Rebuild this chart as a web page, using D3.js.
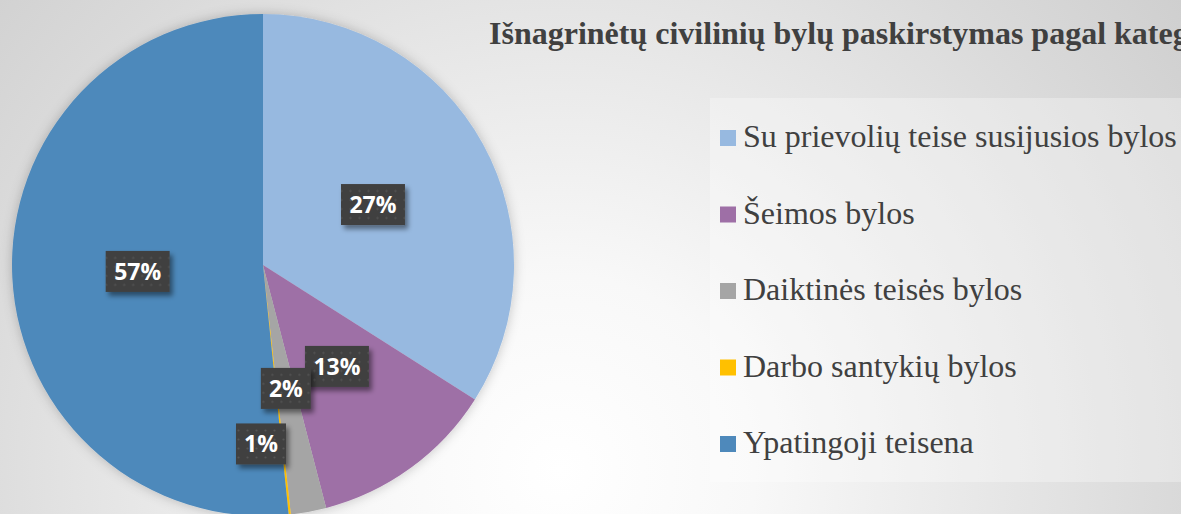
<!DOCTYPE html>
<html>
<head>
<meta charset="utf-8">
<script src="https://cdn.jsdelivr.net/npm/d3@7"></script>
<style>
  html, body { margin: 0; padding: 0; overflow: hidden; }
  body { width: 1181px; height: 514px; }
</style>
</head>
<body>
<div id="chart"></div>
<script>
// Chart data (slice shares, labels as printed)
const categories = [
    'Su prievolių teise susijusios bylos',
    'Šeimos bylos',
    'Daiktinės teisės bylos',
    'Darbo santykių bylos',
    'Ypatingoji teisena'
];
const shares = [34.0, 11.95, 2.28, 0.14, 51.63];
const labels = ['27%', '13%', '2%', '1%', '57%'];
const colors = ['#97B9E0', '#9E6FA6', '#A5A5A5', '#FFC000', '#4E89BB'];
const title = 'Išnagrinėtų civilinių bylų paskirstymas pagal kategorijas';

const config = {
    width: 1181,
    height: 514,
    cx: 263,
    cy: 265,
    radius: 251
};

const svg = d3.select('#chart').append('svg')
    .attr('width', config.width)
    .attr('height', config.height);

const defs = svg.append('defs');

// Background radial gradient
const bg = defs.append('radialGradient')
    .attr('id', 'bg')
    .attr('gradientUnits', 'userSpaceOnUse')
    .attr('cx', 560).attr('cy', 470).attr('r', 780);
bg.append('stop').attr('offset', 0).attr('stop-color', '#ffffff');
bg.append('stop').attr('offset', 0.25).attr('stop-color', '#f8f8f8');
bg.append('stop').attr('offset', 0.8).attr('stop-color', '#d9d9d9');
bg.append('stop').attr('offset', 1).attr('stop-color', '#cfcfcf');

// soft shadow for pie
const pieShadow = defs.append('filter').attr('id', 'pieShadow')
    .attr('x', '-20%').attr('y', '-20%').attr('width', '140%').attr('height', '140%');
pieShadow.append('feDropShadow')
    .attr('dx', 0).attr('dy', 0).attr('stdDeviation', 6)
    .attr('flood-color', '#000').attr('flood-opacity', 0.22);

// shadow for label boxes
const boxShadow = defs.append('filter').attr('id', 'boxShadow')
    .attr('x', '-30%').attr('y', '-30%').attr('width', '160%').attr('height', '160%');
boxShadow.append('feDropShadow')
    .attr('dx', 3).attr('dy', 4).attr('stdDeviation', 2.5)
    .attr('flood-color', '#000').attr('flood-opacity', 0.45);

// dotted fill for label boxes
const dots = defs.append('pattern')
    .attr('id', 'dots')
    .attr('patternUnits', 'userSpaceOnUse')
    .attr('width', 9).attr('height', 9);
dots.append('rect').attr('width', 9).attr('height', 9).attr('fill', '#404040');
dots.append('circle').attr('cx', 4.5).attr('cy', 4.5).attr('r', 1.1).attr('fill', '#555555');

svg.append('rect')
    .attr('width', config.width)
    .attr('height', config.height)
    .attr('fill', 'url(#bg)');

// Pie
const pie = d3.pie().sort(null).value(d => d);
const arcs = pie(shares);

const arc = d3.arc().innerRadius(0).outerRadius(config.radius);

const g = svg.append('g')
    .attr('transform', `translate(${config.cx},${config.cy})`);

g.append('g')
    .attr('filter', 'url(#pieShadow)')
    .selectAll('path')
    .data(arcs)
    .enter().append('path')
    .attr('d', arc)
    .attr('fill', (d, i) => colors[i]);

// Data labels - the tiny slice label is pushed outward like Excel does
const labelNudge = { 3: { r: 0.713, da: 0.118 } };
const labelPos = (d, i) => {
    const n = labelNudge[i] || { r: 0.5, da: 0 };
    const a = (d.startAngle + d.endAngle) / 2 + n.da;
    const r = config.radius * n.r;
    return [r * Math.sin(a), -r * Math.cos(a)];
};

const boxW = 64, boxH = 41;
const lbl = g.selectAll('.lbl')
    .data(arcs)
    .enter().append('g')
    .attr('class', 'lbl')
    .attr('transform', (d, i) => {
        const p = labelPos(d, i);
        return `translate(${p[0]},${p[1]})`;
    });

lbl.append('rect')
    .attr('x', (d, i) => -(labels[i].length > 2 ? boxW : 50) / 2)
    .attr('y', -boxH / 2)
    .attr('width', (d, i) => labels[i].length > 2 ? boxW : 50)
    .attr('height', boxH)
    .attr('fill', 'url(#dots)')
    .attr('filter', 'url(#boxShadow)');

lbl.append('text')
    .attr('text-anchor', 'middle')
    .attr('dy', '0.36em')
    .attr('fill', '#ffffff')
    .style('font-family', '"Open Sans", sans-serif')
    .style('font-weight', 'bold')
    .style('font-size', '23px')
    .text((d, i) => labels[i]);

// Title (runs past the right edge, as in the original)
svg.append('text')
    .attr('x', 489)
    .attr('y', 44)
    .attr('fill', '#404040')
    .style('font-family', '"Liberation Serif", "Times New Roman", serif')
    .style('font-weight', 'bold')
    .style('font-size', '32px')
    .text(title);

// Legend
svg.append('rect')
    .attr('x', 710).attr('y', 98)
    .attr('width', 480).attr('height', 384)
    .attr('fill', '#ffffff')
    .attr('fill-opacity', 0.3);

const legend = svg.append('g')
    .selectAll('g')
    .data(categories)
    .enter().append('g')
    .attr('transform', (d, i) => `translate(720,${138 + i * 76.5})`);

legend.append('rect')
    .attr('x', 0).attr('y', -8)
    .attr('width', 16).attr('height', 16)
    .attr('fill', (d, i) => colors[i]);

legend.append('text')
    .attr('x', 23)
    .attr('y', 9)
    .attr('fill', '#404040')
    .style('font-family', '"Liberation Serif", "Times New Roman", serif')
    .style('font-size', '32px')
    .text(d => d);
</script>
</body>
</html>
